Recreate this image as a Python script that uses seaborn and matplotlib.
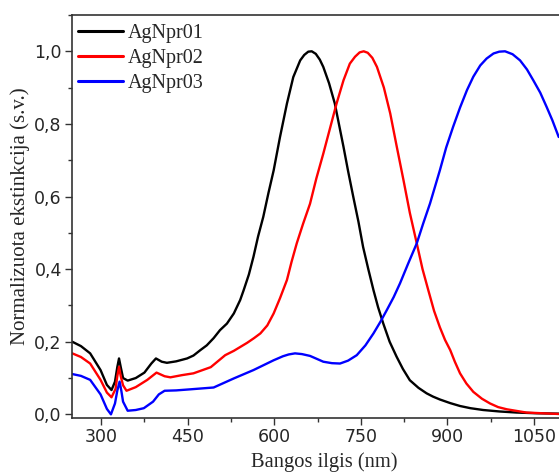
import matplotlib
matplotlib.use("Agg")
import matplotlib.pyplot as plt
from matplotlib.ticker import FuncFormatter, MultipleLocator
import numpy as np
import pandas as pd
import seaborn as sns

# ---- data ----
series_names = ["AgNpr01", "AgNpr02", "AgNpr03"]
series_colors = ["#000000", "#ff0000", "#0000ff"]

wl_01 = [250, 265, 281, 299, 310, 318, 324, 328, 331, 334, 338, 346, 360, 375, 387, 395,
         405, 414, 430, 449, 460, 472, 483, 495, 506, 518, 530, 541, 547, 556, 564, 572,
         581, 590, 599, 610, 622, 633, 645, 652, 659, 665, 672, 679, 685, 695, 705, 720,
         728, 737, 746, 754, 763, 772, 780, 789, 800, 812, 823, 835, 850, 864, 875, 887,
         905, 922, 940, 962, 990, 1020, 1055, 1093]
ext_01 = [0.200, 0.188, 0.168, 0.122, 0.081, 0.067, 0.090, 0.130, 0.154, 0.130, 0.100,
          0.093, 0.100, 0.115, 0.140, 0.154, 0.145, 0.142, 0.146, 0.154, 0.162, 0.177,
          0.190, 0.210, 0.232, 0.250, 0.278, 0.315, 0.342, 0.385, 0.434, 0.490, 0.544,
          0.610, 0.672, 0.764, 0.856, 0.929, 0.975, 0.990, 0.999, 1.000, 0.993, 0.977,
          0.957, 0.912, 0.856, 0.737, 0.670, 0.599, 0.530, 0.461, 0.400, 0.342, 0.295,
          0.250, 0.200, 0.159, 0.125, 0.094, 0.073, 0.058, 0.049, 0.041, 0.031, 0.023,
          0.017, 0.012, 0.008, 0.005, 0.003, 0.002]

wl_02 = [250, 265, 281, 299, 310, 318, 325, 328, 331, 334, 338, 344, 360, 380, 396, 410,
         420, 440, 460, 490, 515, 530, 553, 565, 576, 588, 599, 610, 622, 630, 639, 650,
         662, 673, 685, 697, 708, 720, 731, 740, 748, 755, 762, 770, 778, 790, 801, 812,
         824, 835, 847, 857, 867, 877, 887, 896, 905, 913, 922, 933, 945, 960, 974, 988,
         1003, 1037, 1093]
ext_02 = [0.168, 0.158, 0.140, 0.095, 0.060, 0.047, 0.070, 0.105, 0.131, 0.105, 0.080,
          0.065, 0.075, 0.095, 0.115, 0.105, 0.102, 0.108, 0.113, 0.130, 0.163, 0.175,
          0.197, 0.210, 0.223, 0.245, 0.278, 0.320, 0.370, 0.420, 0.471, 0.525, 0.580,
          0.650, 0.718, 0.790, 0.856, 0.920, 0.966, 0.985, 0.997, 1.000, 0.996, 0.982,
          0.957, 0.900, 0.829, 0.740, 0.645, 0.555, 0.471, 0.400, 0.342, 0.285, 0.240,
          0.205, 0.177, 0.145, 0.113, 0.085, 0.062, 0.043, 0.030, 0.020, 0.014, 0.005,
          0.001]

wl_03 = [250, 265, 281, 299, 310, 317, 324, 328, 332, 335, 338, 346, 360, 374, 390, 400,
         410, 430, 455, 495, 530, 564, 599, 615, 625, 636, 648, 662, 675, 685, 700, 714,
         728, 743, 758, 772, 784, 795, 807, 818, 832, 847, 858, 870, 887, 898, 910, 922,
         934, 945, 957, 968, 980, 990, 1000, 1013, 1026, 1038, 1049, 1061, 1072, 1082,
         1093]
ext_03 = [0.111, 0.106, 0.095, 0.055, 0.015, 0.000, 0.030, 0.065, 0.090, 0.065, 0.035,
          0.010, 0.012, 0.017, 0.035, 0.055, 0.065, 0.066, 0.069, 0.074, 0.099, 0.122,
          0.149, 0.160, 0.165, 0.168, 0.166, 0.161, 0.152, 0.145, 0.141, 0.140, 0.148,
          0.163, 0.190, 0.223, 0.255, 0.287, 0.323, 0.361, 0.415, 0.471, 0.525, 0.581,
          0.672, 0.735, 0.792, 0.845, 0.893, 0.930, 0.961, 0.980, 0.994, 0.999, 1.000,
          0.992, 0.975, 0.950, 0.920, 0.886, 0.847, 0.810, 0.764]

x_ticks = [300, 450, 600, 750, 900, 1050]
y_ticks = [0.0, 0.2, 0.4, 0.6, 0.8, 1.0]
x_label = "Bangos ilgis (nm)"
y_label = "Normalizuota ekstinkcija (s.v.)"

frames = []
for name, wl, ext in zip(series_names, [wl_01, wl_02, wl_03], [ext_01, ext_02, ext_03]):
    frames.append(pd.DataFrame({"wl": wl, "ext": ext, "sample": name}))
df = pd.concat(frames, ignore_index=True)

sns.set_style("ticks")
plt.rcParams["font.family"] = ["DejaVu Sans"]

fig = plt.figure(figsize=(5.59, 4.73), dpi=100)
ax = fig.add_axes([0.1293, 0.1163, 0.8707, 0.852])

sns.lineplot(data=df, x="wl", y="ext", hue="sample", hue_order=series_names,
             palette=dict(zip(series_names, series_colors)), linewidth=1.7,
             sort=False, estimator=None, ax=ax)
for line in ax.get_lines():
    line.set_solid_joinstyle("round")

ax.set_xlim(250, 1093.5)
ax.set_ylim(-0.01, 1.1)
ax.set_xticks(x_ticks)
ax.set_yticks(y_ticks)
ax.xaxis.set_minor_locator(MultipleLocator(75))
ax.yaxis.set_minor_locator(MultipleLocator(0.1))
ax.yaxis.set_major_formatter(FuncFormatter(lambda v, p: f"{v:.1f}".replace(".", ",")))

ax.tick_params(axis="both", which="major", direction="out", length=5, width=1,
               labelsize=12.5, color="#333333", pad=2.5)
ax.tick_params(axis="both", which="minor", direction="out", length=3, width=1,
               color="#333333")
for s in ["left", "bottom", "top"]:
    ax.spines[s].set_color("#333333")
    ax.spines[s].set_linewidth(1.2)
ax.spines["right"].set_visible(False)

ax.set_xlabel(x_label, family="Liberation Serif", fontsize=14.8, labelpad=2)
ax.xaxis.set_label_coords(0.517, -0.085)
ax.set_ylabel(y_label, family="Liberation Serif", fontsize=15, labelpad=3)

leg = ax.legend(loc="upper left", bbox_to_anchor=(0.011, 0.978), frameon=False,
                prop={"family": "Liberation Serif", "size": 14.5},
                handlelength=2.24, handletextpad=0.26, labelspacing=0.3,
                borderaxespad=0.0, borderpad=0.0)
for line in leg.get_lines():
    line.set_linewidth(2.2)

fig.savefig("out.png", dpi=100)
